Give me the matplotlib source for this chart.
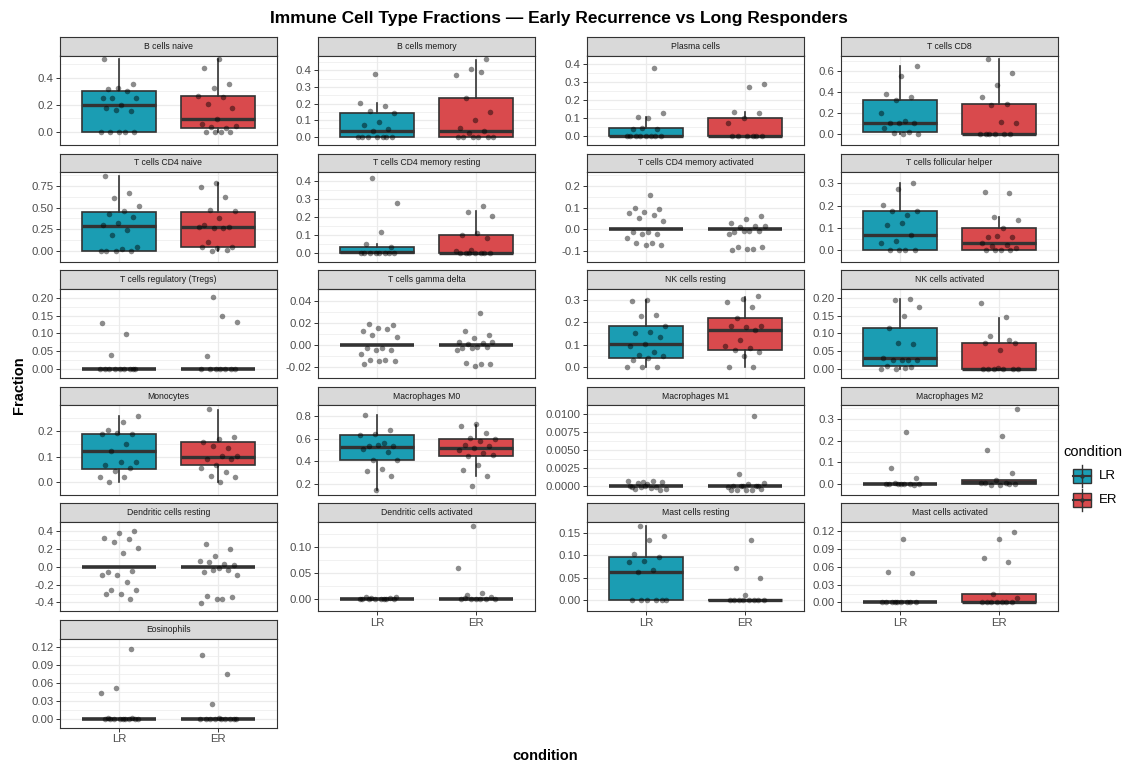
import numpy as np
import matplotlib
matplotlib.use("Agg")
import matplotlib.pyplot as plt
from matplotlib.patches import Rectangle

plt.rcParams['font.family'] = ['Liberation Sans', 'DejaVu Sans']

# ---------------------------------------------------------------- data
cell_types = [
    "B cells naive", "B cells memory", "Plasma cells", "T cells CD8",
    "T cells CD4 naive", "T cells CD4 memory resting",
    "T cells CD4 memory activated", "T cells follicular helper",
    "T cells regulatory (Tregs)", "T cells gamma delta", "NK cells resting",
    "NK cells activated", "Monocytes", "Macrophages M0", "Macrophages M1",
    "Macrophages M2", "Dendritic cells resting", "Dendritic cells activated",
    "Mast cells resting", "Mast cells activated", "Eosinophils",
]
conditions = ["LR", "ER"]
condition_colors = {"LR": "#1B9DB3", "ER": "#D94A4D"}

# box statistics per group: (lower whisker, q1, median, q3, upper whisker)
FLAT = (0.0, 0.0, 0.0, 0.0, 0.0)
box_lr = [
    (0, 0, 0.198, 0.298, 0.537), (0, 0, 0.032, 0.142, 0.206),
    (0, 0, 0, 0.043, 0.106), (0, 0.023, 0.11, 0.33, 0.649),
    (0, 0, 0.29, 0.449, 0.859), (0, 0, 0.005, 0.034, 0.048),
    FLAT, (0, 0, 0.07, 0.176, 0.3),
    FLAT, FLAT, (0, 0.039, 0.101, 0.185, 0.3),
    (0, 0.01, 0.032, 0.114, 0.197), (0, 0.053, 0.12, 0.19, 0.261),
    (0.142, 0.408, 0.528, 0.636, 0.811), FLAT,
    FLAT, FLAT, FLAT,
    (0, 0, 0.0635, 0.097, 0.165), FLAT, FLAT,
]
box_er = [
    (0, 0.026, 0.093, 0.263, 0.537), (0, 0, 0.036, 0.236, 0.462),
    (0, 0, 0, 0.1, 0.137), (0, 0, 0, 0.29, 0.713),
    (0, 0.042, 0.272, 0.449, 0.789), (0, 0, 0, 0.097, 0.23),
    FLAT, (0, 0, 0.033, 0.1, 0.148),
    FLAT, FLAT, (0, 0.074, 0.167, 0.217, 0.314),
    (0, 0, 0, 0.072, 0.144), (0, 0.067, 0.1, 0.156, 0.284),
    (0.272, 0.444, 0.522, 0.597, 0.722), FLAT,
    (0, 0, 0.01, 0.02, 0.02), FLAT, FLAT,
    (0, 0, 0, 0.001, 0.001), (0, 0, 0, 0.014, 0.014), FLAT,
]

# jittered sample fractions per group
pts_lr = [
    [0.317, 0.35, 0.324, 0.252, 0.302, 0.246, 0.246, 0.198, 0.172, 0.152, 0.159, 0, 0, 0, 0, 0, 0.537],
    [0.377, 0.206, 0.187, 0.153, 0.142, 0.087, 0.068, 0.047, 0.032, 0, 0, 0, 0, 0, 0, 0],
    [0.378, 0.109, 0.129, 0.1, 0.037, 0.037, 0.045, 0, 0, 0, 0, 0, 0, 0, 0],
    [0.652, 0.559, 0.383, 0.354, 0.33, 0.203, 0.128, 0.11, 0.11, 0.11, 0.058, 0.026, 0.017, 0.009, 0],
    [0.866, 0.672, 0.612, 0.523, 0.456, 0.42, 0.389, 0.322, 0.293, 0.237, 0.187, 0.042, 0.018, 0, 0, 0, 0],
    [0.417, 0.276, 0.114, 0.049, 0.032, 0, 0, 0, 0, 0, 0, 0, 0],
    [0.158, 0.098, 0.095, 0.08, 0.076, 0.066, 0.053, 0.039, -0.015, -0.013, -0.022, -0.022,
     -0.043, -0.062, -0.062, -0.074, -0.074],
    [0.3, 0.275, 0.204, 0.16, 0.176, 0.176, 0.124, 0.114, 0.07, 0.04, 0.033, 0, 0, 0, 0],
    [0.13, 0.098, 0.041, 0, 0, 0, 0, 0, 0, 0, 0, 0],
    [0.0197, 0.018, 0.0156, 0.0133, 0.0147, 0.0097, 0.0078, -0.0025, -0.0022, -0.0044, -0.0044,
     -0.0083, -0.0136, -0.0136, -0.0147, -0.0147, -0.0172],
    [0.301, 0.294, 0.234, 0.23, 0.185, 0.155, 0.151, 0.132, 0.101, 0.094, 0.067, 0.054, 0.05,
     0.039, 0.03, 0, 0, 0],
    [0.197, 0.194, 0.174, 0.149, 0.114, 0.07, 0.072, 0.032, 0.026, 0.026, 0.026, 0.027, 0.01,
     0.006, 0, 0, 0.003],
    [0.261, 0.234, 0.203, 0.19, 0.191, 0.187, 0.149, 0.121, 0.079, 0.077, 0.068, 0.054, 0.042,
     0.021, 0.021, 0],
    [0.817, 0.678, 0.642, 0.631, 0.561, 0.536, 0.539, 0.544, 0.511, 0.483, 0.411, 0.411, 0.331,
     0.311, 0.267, 0.139],
    [0.00055, 0.00067, 0.00067, 0.00038, 0.00055, 0.00021, -0.00021, -0.00013, -0.0002, -0.00038,
     -0.0003, -0.0005, -0.00055, 0.00004, 0.0],
    [0.24, 0.074, 0.029, 0, 0.001, 0.001, 0.003, 0.001, 0, 0, -0.003, 0.001],
    [0.394, 0.381, 0.323, 0.306, 0.271, 0.203, 0.158, -0.058, -0.048, -0.094, -0.097, -0.171,
     -0.258, -0.265, -0.303, -0.303, -0.361],
    [0, 0, 0.0012, 0.0023, 0, 0.003, 0.0012, 0, 0, -0.0012, -0.0012, 0],
    [0.166, 0.143, 0.135, 0.103, 0.097, 0.088, 0.086, 0.068, 0.064, 0, 0, 0, 0, 0, 0.001],
    [0.106, 0.051, 0.05, 0, 0, 0, 0, 0, 0, 0, 0, 0.001],
    [0.117, 0.052, 0.044, 0, 0, 0, 0, 0, 0, 0, 0, 0, 0.002, 0.001],
]
pts_er = [
    [0.537, 0.472, 0.35, 0.32, 0.26, 0.257, 0.202, 0.176, 0.093, 0.057, 0.026, 0.037, 0.039, 0, 0, 0, 0],
    [0.466, 0.408, 0.37, 0.392, 0.236, 0.151, 0.098, 0.055, 0.036, 0.025, 0, 0, 0, 0, 0, 0],
    [0.288, 0.275, 0.137, 0.129, 0.1, 0.071, 0, 0, 0, 0, 0, 0],
    [0.713, 0.583, 0.467, 0.351, 0.293, 0.284, 0.104, 0.122, 0, 0, 0, 0, 0, 0],
    [0.785, 0.732, 0.619, 0.477, 0.456, 0.375, 0.293, 0.279, 0.258, 0.272, 0.258, 0.103, 0.042,
     0.032, 0.042, 0.007, 0],
    [0.26, 0.228, 0.204, 0.107, 0.097, 0.082, 0.015, 0.008, 0, 0, 0, 0, 0, 0, 0],
    [0.062, 0.049, 0.029, 0.015, 0.008, 0.014, -0.008, -0.015, -0.01, -0.008, -0.022, -0.09,
     -0.084, -0.084, -0.09, -0.098],
    [0.263, 0.258, 0.151, 0.138, 0.102, 0.06, 0.06, 0.064, 0.033, 0.026, 0.02, 0.012, 0, 0, 0, 0],
    [0.202, 0.132, 0.149, 0.038, 0, 0, 0, 0, 0, 0, 0],
    [0.029, 0.0125, 0.0097, 0.0061, 0.0033, 0.0019, 0.0011, 0.0025, -0.0014, -0.0025, -0.0014,
     -0.0025, -0.0047, -0.017, -0.0158, -0.0167, -0.0192],
    [0.317, 0.303, 0.292, 0.268, 0.217, 0.185, 0.179, 0.185, 0.167, 0.119, 0.096, 0.085, 0.078,
     0.066, 0.049, 0, 0],
    [0.184, 0.146, 0.094, 0.072, 0.054, 0.072, 0.083, 0, 0, 0, 0, 0, 0.003, 0],
    [0.287, 0.176, 0.171, 0.156, 0.135, 0.14, 0.102, 0.102, 0.09, 0.09, 0.067, 0.055, 0.039,
     0.023, 0.018, 0],
    [0.733, 0.711, 0.656, 0.606, 0.6, 0.581, 0.547, 0.539, 0.522, 0.497, 0.478, 0.447, 0.456,
     0.367, 0.322, 0.267, 0.178],
    [0.00978, 0.00164, 0.00038, 0.0003, 0.00004, 0.0, -0.00004, -0.00017, -0.00055, -0.00055,
     -0.0005, -0.00055, -0.00055, -0.00004, 0.0],
    [0.347, 0.224, 0.157, 0.051, 0.02, 0.003, 0.003, -0.003, 0, -0.003, 0.003, 0],
    [0.252, 0.194, 0.119, 0.065, 0.029, 0.052, 0.016, -0.019, -0.058, -0.035, -0.035, -0.097,
     -0.361, -0.332, -0.339, -0.365, -0.403],
    [0.1415, 0.059, 0.0105, 0.0064, 0.002, 0, 0, -0.0012, -0.0012, 0, 0, 0.001],
    [0.134, 0.073, 0.05, 0.012, 0, 0, 0, 0, 0, 0, 0, 0.001],
    [0.118, 0.106, 0.074, 0.068, 0.0134, 0.008, 0, 0, 0, 0, 0, 0, 0],
    [0.108, 0.075, 0.026, 0, 0, 0, 0, 0, 0, 0, 0, 0, 0.001],
]

# outliers hidden from view that still take part in the y scale
hidden_outliers = {
    "T cells CD4 memory activated": [0.247],
    "T cells gamma delta": [0.048],
}

y_ticks = [
    [0, 0.2, 0.4], [0, 0.1, 0.2, 0.3, 0.4], [0, 0.1, 0.2, 0.3, 0.4], [0, 0.2, 0.4, 0.6],
    [0, 0.25, 0.5, 0.75], [0, 0.1, 0.2, 0.3, 0.4], [-0.1, 0, 0.1, 0.2], [0, 0.1, 0.2, 0.3],
    [0, 0.05, 0.1, 0.15, 0.2], [-0.02, 0, 0.02, 0.04], [0, 0.1, 0.2, 0.3],
    [0, 0.05, 0.1, 0.15, 0.2], [0, 0.1, 0.2], [0.2, 0.4, 0.6, 0.8],
    [0, 0.0025, 0.005, 0.0075, 0.01], [0, 0.1, 0.2, 0.3], [-0.4, -0.2, 0, 0.2, 0.4],
    [0, 0.05, 0.1], [0, 0.05, 0.1, 0.15], [0, 0.03, 0.06, 0.09, 0.12],
    [0, 0.03, 0.06, 0.09, 0.12],
]
tick_decimals = [1, 1, 1, 1, 2, 1, 1, 1, 2, 2, 1, 2, 1, 1, 4, 1, 1, 2, 2, 2, 2]

# ---------------------------------------------------------------- layout
W, H = 1144, 763
fig = plt.figure(figsize=(W / 100, H / 100), dpi=100)
fig.patch.set_facecolor("white")

col_left = [60, 318, 587, 841]
panel_w = 217
row_top0, row_step = 37, 116.6
strip_h, panel_h = 18.5, 89.5
ncol = 4
n = len(cell_types)

DARK = "#333333"
GRID = "#EBEBEB"
TICKTXT = "#4D4D4D"


def px_axes(left, top, w, h):
    return fig.add_axes([left / W, 1 - (top + h) / H, w / W, h / H])


def fmt(v, d):
    s = f"{v:.{d}f}"
    if s.startswith("-") and float(s) == 0:
        s = s[1:]
    return s


def jitter_offsets(k, phase):
    # evenly spread horizontal offsets within +/- 0.2
    return (((np.arange(k) + phase) * 0.6180339887) % 1.0 - 0.5) * 0.4


for i, name in enumerate(cell_types):
    r, c = divmod(i, ncol)
    top = row_top0 + r * row_step
    left = col_left[c]

    # strip
    sax = px_axes(left, top, panel_w, strip_h)
    sax.set_facecolor("#D9D9D9")
    sax.set_xticks([]); sax.set_yticks([])
    for sp in sax.spines.values():
        sp.set_color(DARK); sp.set_linewidth(0.8)
    sax.text(0.5, 0.5, name, ha="center", va="center", fontsize=6.2, color="#1A1A1A",
             transform=sax.transAxes)

    ax = px_axes(left, top + strip_h, panel_w, panel_h)
    ax.set_facecolor("white")

    # y range from everything the layers put on the scale
    vals = list(pts_lr[i]) + list(pts_er[i]) + list(box_lr[i]) + list(box_er[i])
    vals += hidden_outliers.get(name, [])
    lo, hi = min(vals), max(vals)
    span = hi - lo
    ax.set_ylim(lo - 0.05 * span, hi + 0.05 * span)
    ax.set_xlim(0.4, 2.6)

    ticks = y_ticks[i]
    ax.set_yticks(ticks)
    ax.set_yticklabels([fmt(t, tick_decimals[i]) for t in ticks])
    step = ticks[1] - ticks[0]
    minors = [t + step / 2 for t in [ticks[0] - step] + ticks]
    ax.set_yticks(minors, minor=True)
    ax.tick_params(axis="y", which="minor", length=0)
    ax.tick_params(axis="y", which="major", length=3, width=0.7, color=DARK,
                   labelsize=8.2, labelcolor=TICKTXT, pad=1.5)
    ax.grid(axis="y", which="major", color=GRID, linewidth=0.9, zorder=0)
    ax.grid(axis="y", which="minor", color=GRID, linewidth=0.5, zorder=0)
    ax.set_xticks([1, 2])
    ax.grid(axis="x", which="major", color=GRID, linewidth=0.9, zorder=0)
    ax.set_axisbelow(True)

    is_bottom = (i + ncol) >= n
    if is_bottom:
        ax.set_xticklabels(conditions)
        ax.tick_params(axis="x", length=3, width=0.7, color=DARK, labelsize=8.2,
                       labelcolor=TICKTXT, pad=1.5)
    else:
        ax.tick_params(axis="x", length=0, labelbottom=False)

    for sp in ax.spines.values():
        sp.set_color(DARK); sp.set_linewidth(0.8)

    for j, (cond, stats) in enumerate(zip(conditions, (box_lr[i], box_er[i]))):
        pos = j + 1
        wl, q1, med, q3, wh = stats
        if q3 - q1 > 0:
            ax.bxp([dict(med=med, q1=q1, q3=q3, whislo=wl, whishi=wh, fliers=[])],
                   positions=[pos], widths=0.75, patch_artist=True, showcaps=False,
                   showfliers=False,
                   boxprops=dict(facecolor=condition_colors[cond], edgecolor=DARK,
                                 linewidth=1.2),
                   medianprops=dict(color=DARK, linewidth=2.4, solid_capstyle="butt"),
                   whiskerprops=dict(color=DARK, linewidth=1.2),
                   manage_ticks=False, zorder=2)
        else:
            ax.plot([pos - 0.375, pos + 0.375], [med, med], color=DARK, linewidth=2.6,
                    solid_capstyle="butt", zorder=2)

    for j, pts in enumerate((pts_lr[i], pts_er[i])):
        y = np.asarray(pts, dtype=float)
        x = (j + 1) + jitter_offsets(len(y), 0.37 * (i + 1) + j * 0.5)
        ax.scatter(x, y, s=16, color="black", alpha=0.45, linewidths=0, zorder=3)

# ---------------------------------------------------------------- titles
fig.text(559 / W, 1 - 19 / H,
         "Immune Cell Type Fractions \u2014 Early Recurrence vs Long Responders",
         ha="center", va="center", fontsize=12.5, fontweight="bold")
fig.text(545 / W, 1 - 756 / H, "condition", ha="center", va="center",
         fontsize=10.5, fontweight="bold")
fig.text(19 / W, 1 - 385 / H, "Fraction", ha="center", va="center", rotation=90,
         fontsize=10.5, fontweight="bold")

# ---------------------------------------------------------------- legend
lax = fig.add_axes([0, 0, 1, 1], facecolor="none")
lax.set_xlim(0, W); lax.set_ylim(H, 0); lax.axis("off")
lax.text(1063, 452, "condition", ha="left", va="center", fontsize=10.5)
for k, cond in enumerate(conditions):
    cy = 476 + k * 24
    lax.plot([1082, 1082], [cy - 11, cy + 11], color=DARK, linewidth=1.0)
    lax.add_patch(Rectangle((1073, cy - 7), 18, 14, facecolor=condition_colors[cond],
                            edgecolor=DARK, linewidth=1.0))
    lax.plot([1073, 1091], [cy, cy], color=DARK, linewidth=1.5)
    lax.scatter([1082], [cy], s=10, color="black", alpha=0.6, linewidths=0)
    lax.text(1099, cy, cond, ha="left", va="center", fontsize=9.5)

fig.savefig("out.png", dpi=100, facecolor="white")
